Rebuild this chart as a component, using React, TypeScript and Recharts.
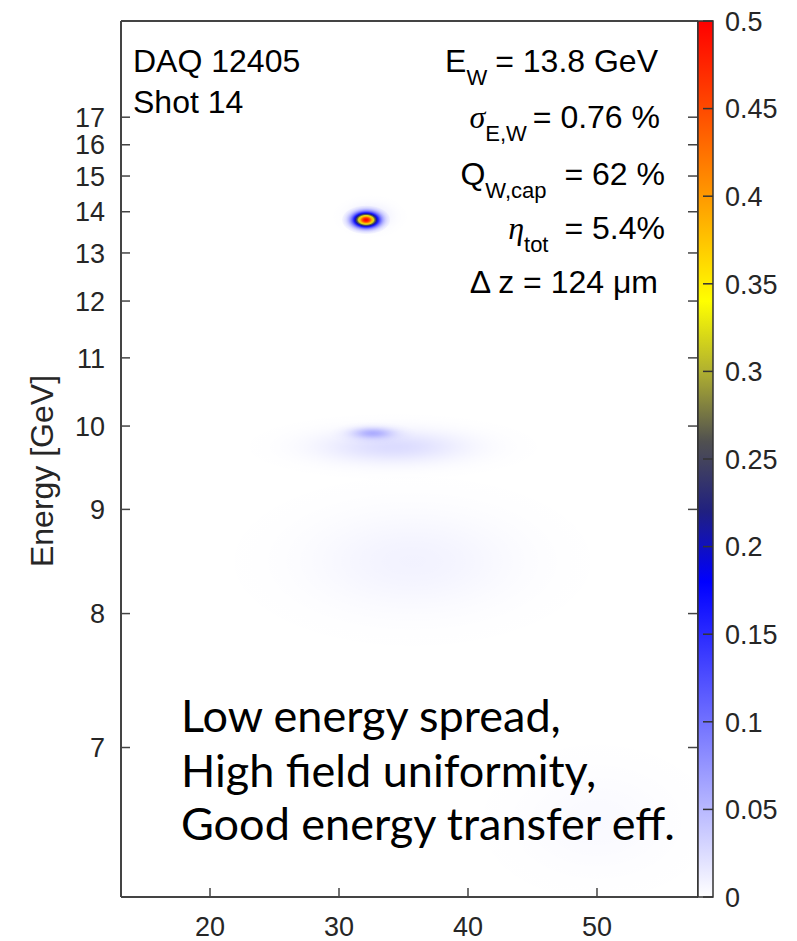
import React from 'react';
import { ComposedChart, XAxis, YAxis, ReferenceArea } from 'recharts';

// axis ticks
const energyTicks = [7, 8, 9, 10, 11, 12, 13, 14, 15, 16, 17];
const xTicks = [20, 30, 40, 50];
const cbTicks = [0, 0.05, 0.1, 0.15, 0.2, 0.25, 0.3, 0.35, 0.4, 0.45, 0.5];

// plot window (energy in GeV)
const xDomain = [13.1, 57.83];
const eTop = 21.74;
const eBottom = 6.143;

// beam features: centre, rms widths, peak value
const blobX = [35.7, 50.0, 34.2, 32.6, 32.4, 32.1];
const blobE = [8.58, 6.6, 9.75, 9.91, 13.9, 13.8];
const blobSx = [5.4, 4.0, 3.8, 1.1, 1.0, 0.62];
const blobSe = [0.32, 0.2, 0.14, 0.05, 0.19, 0.12];
const blobPeak = [0.009, 0.004, 0.025, 0.05, 0.02, 0.5];

// colour map of the colour bar
const cmapV = [0, 0.18, 0.22, 0.26, 0.3, 0.34, 0.36, 0.4, 0.45, 0.5];
const cmapC = ['#ffffff', '#0000ff', '#202080', '#505050', '#b0b030', '#ffff00', '#ffdd00', '#ff9900', '#ff4a00', '#ff0000'];

const frame = '#444444';
const tickText = '#262626';
const axisFont = 'Liberation Sans, Arial, sans-serif';

const toRgb = (c: string) => [1, 3, 5].map((i) => parseInt(c.slice(i, i + 2), 16));

function cmap(v: number) {
  const t = Math.max(0, Math.min(0.5, v));
  let i = 0;
  while (i < cmapV.length - 2 && t > cmapV[i + 1]) i++;
  const f = (t - cmapV[i]) / (cmapV[i + 1] - cmapV[i]);
  const a = toRgb(cmapC[i]);
  const b = toRgb(cmapC[i + 1]);
  const c = a.map((va, k) => Math.round(va + (b[k] - va) * f));
  return `rgb(${c[0]},${c[1]},${c[2]})`;
}

const blobShape = (i: number) => (props: any) => {
  const { x, y, width, height } = props;
  const cx = x + width / 2;
  const cy = y + height / 2;
  const id = `blob-${i}`;
  const stops = [];
  for (let s = 0; s <= 16; s++) {
    const t = s / 16;
    const v = blobPeak[i] * Math.exp(-4.5 * t * t);
    const low = v < 0.18;
    stops.push(
      <stop
        key={s}
        offset={t}
        stopColor={low ? '#0000ff' : cmap(v)}
        stopOpacity={low ? v / 0.18 : 1}
      />
    );
  }
  return (
    <g>
      <defs>
        <radialGradient id={id}>{stops}</radialGradient>
      </defs>
      <ellipse cx={cx} cy={cy} rx={Math.abs(width) / 2} ry={Math.abs(height) / 2} fill={`url(#${id})`} />
    </g>
  );
};

const colorBarShape = (props: any) => {
  const { x, y, width, height } = props;
  return (
    <g>
      <defs>
        <linearGradient id="cbar" x1="0" y1="1" x2="0" y2="0">
          {cmapV.map((v, k) => (
            <stop key={k} offset={v / 0.5} stopColor={cmapC[k]} />
          ))}
        </linearGradient>
      </defs>
      <rect x={x} y={y} width={width} height={height} fill="url(#cbar)" stroke="#333" strokeWidth={1.5} />
    </g>
  );
};

const LeftTick = (p: any) => (
  <g>
    <line x1={p.x} x2={p.x + 9} y1={p.y} y2={p.y} stroke={frame} strokeWidth={1.5} />
    <text x={p.x - 16} y={p.y} dy="0.36em" textAnchor="end" fontSize={27} fill={tickText} fontFamily={axisFont}>
      {Math.round(1 / p.payload.value)}
    </text>
  </g>
);

const RightTick = (p: any) => (
  <line x1={p.x - 10} x2={p.x} y1={p.y} y2={p.y} stroke={frame} strokeWidth={1.5} />
);

const BottomTick = (p: any) => (
  <g>
    <line x1={p.x} x2={p.x} y1={p.y} y2={p.y - 9} stroke={frame} strokeWidth={1.5} />
    <text x={p.x} y={p.y + 39} textAnchor="middle" fontSize={27} fill={tickText} fontFamily={axisFont}>
      {p.payload.value}
    </text>
  </g>
);

const TopTick = (p: any) => (
  <line x1={p.x} x2={p.x} y1={p.y} y2={p.y + 9} stroke={frame} strokeWidth={1.5} />
);

const CbTick = (p: any) => (
  <g>
    <line x1={p.x - 10} x2={p.x} y1={p.y} y2={p.y} stroke="#333" strokeWidth={1.5} />
    <text x={p.x + 12} y={p.y} dy="0.36em" textAnchor="start" fontSize={27} fill={tickText} fontFamily={axisFont}>
      {p.payload.value}
    </text>
  </g>
);

const EnergyLabel = (p: any) => {
  const vb = p.viewBox;
  const cy = vb.y + vb.height / 2 + 12;
  return (
    <text x={53} y={cy} transform={`rotate(-90, 53, ${cy})`} textAnchor="middle" fontSize={32} fill={tickText} fontFamily={axisFont}>
      Energy [GeV]
    </text>
  );
};

export default function App() {
  const sub = { fontSize: 22 };
  const greek = { fontStyle: 'italic' as const, fontFamily: 'Liberation Serif, serif' };
  const yTicks = energyTicks.map((e) => 1 / e);
  return (
    <div style={{ position: 'absolute', left: 0, top: 0, width: 797, height: 941, background: '#fff' }}>
      <ComposedChart width={797} height={941} margin={{ top: 20, right: 98, bottom: 43, left: 120 }}>
        <XAxis
          type="number"
          dataKey="x"
          domain={xDomain}
          allowDataOverflow
          ticks={xTicks}
          interval={0}
          height={1}
          tickSize={0}
          tickMargin={0}
          tick={BottomTick}
          axisLine={{ stroke: frame, strokeWidth: 2 }}
        />
        <XAxis
          xAxisId="top"
          orientation="top"
          type="number"
          domain={xDomain}
          allowDataOverflow
          ticks={xTicks}
          interval={0}
          height={1}
          tickSize={0}
          tickMargin={0}
          tick={TopTick}
          axisLine={{ stroke: frame, strokeWidth: 2 }}
        />
        <YAxis
          type="number"
          domain={[1 / eTop, 1 / eBottom]}
          allowDataOverflow
          reversed
          ticks={yTicks}
          interval={0}
          width={1}
          tickSize={0}
          tickMargin={0}
          tick={LeftTick}
          axisLine={{ stroke: frame, strokeWidth: 2 }}
          label={{ content: EnergyLabel }}
        />
        <YAxis
          yAxisId="right"
          orientation="right"
          type="number"
          domain={[1 / eTop, 1 / eBottom]}
          allowDataOverflow
          reversed
          ticks={yTicks}
          interval={0}
          width={1}
          tickSize={0}
          tickMargin={0}
          tick={RightTick}
          axisLine={{ stroke: frame, strokeWidth: 2 }}
        />
        {blobX.map((bx, i) => (
          <ReferenceArea
            key={i}
            x1={bx - 3 * blobSx[i]}
            x2={bx + 3 * blobSx[i]}
            y1={1 / (blobE[i] + 3 * blobSe[i])}
            y2={1 / (blobE[i] - 3 * blobSe[i])}
            ifOverflow="hidden"
            shape={blobShape(i)}
          />
        ))}
      </ComposedChart>

      <div style={{ position: 'absolute', left: 690, top: 0 }}>
        <ComposedChart width={107} height={941} margin={{ top: 21, right: 83, bottom: 43, left: 8 }}>
          <XAxis
            type="number"
            dataKey="x"
            domain={[0, 1]}
            allowDataOverflow
            height={1}
            tick={false}
            tickLine={false}
            axisLine={false}
          />
          <YAxis
            orientation="right"
            type="number"
            domain={[0, 0.5]}
            allowDataOverflow
            ticks={cbTicks}
            interval={0}
            width={1}
            tickSize={0}
            tickMargin={0}
            tick={CbTick}
            axisLine={false}
          />
          <ReferenceArea x1={0} x2={1} y1={0} y2={0.5} ifOverflow="hidden" shape={colorBarShape} />
        </ComposedChart>
      </div>

      <svg width={797} height={941} style={{ position: 'absolute', left: 0, top: 0, pointerEvents: 'none' }}>
        <g fontFamily={axisFont} fontSize={32} fill="#000">
          <text x={133} y={72}>DAQ 12405</text>
          <text x={133} y={113}>Shot 14</text>
          <text x={658} y={72} textAnchor="end">
            E<tspan dy={13} {...sub}>W</tspan>
            <tspan dy={-13} dx={8}>= 13.8 GeV</tspan>
          </text>
          <text x={660} y={128} textAnchor="end">
            <tspan {...greek}>σ</tspan>
            <tspan dy={13} {...sub}>E,W</tspan>
            <tspan dy={-13} dx={6}>= 0.76 %</tspan>
          </text>
          <text x={665} y={185} textAnchor="end">
            Q<tspan dy={13} {...sub}>W,cap</tspan>
            <tspan dy={-13} dx={18}>= 62 %</tspan>
          </text>
          <text x={665} y={239} textAnchor="end">
            <tspan {...greek}>η</tspan>
            <tspan dy={13} {...sub}>tot</tspan>
            <tspan dy={-13} dx={16}>= 5.4%</tspan>
          </text>
          <text x={658} y={293} textAnchor="end">Δ z = 124 μm</text>
        </g>
        <g fontFamily="Lato, Carlito, sans-serif" fontSize={45} fill="#000">
          <text x={181} y={732}>Low energy spread,</text>
          <text x={181} y={787}>High field uniformity,</text>
          <text x={181} y={840}>Good energy transfer eff.</text>
        </g>
      </svg>
    </div>
  );
}
